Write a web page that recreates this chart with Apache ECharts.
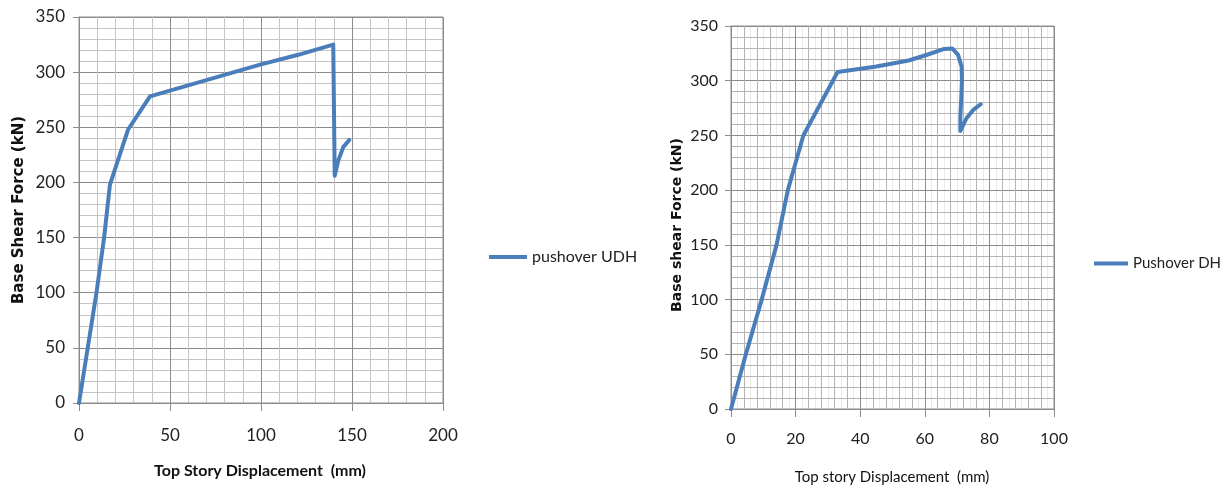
<!DOCTYPE html>
<html>
<head>
<meta charset="utf-8">
<script src="https://cdn.jsdelivr.net/npm/echarts@6/dist/echarts.min.js"></script>
<style>
html,body{margin:0;padding:0;background:#fff;}
#chart{width:1225px;height:488px;}
</style>
</head>
<body>
<div id="chart"></div>
<script>
// Left chart: pushover UDH
const udhX = [0, 9.6, 13.8, 17, 27, 39, 60, 80, 100, 120, 139.7, 140.5, 142.5, 145.2, 148.5];
const udhY = [0, 100, 150, 198, 248, 278, 288, 297.5, 307, 315.5, 325, 206, 220, 232, 238.5];
// Right chart: Pushover DH
const dhX = [0, 4.6, 9.5, 14.1, 17.6, 22.4, 33, 45, 55, 60.5, 66, 68.5, 70.3, 71.4, 71.5, 71.3, 71.0, 71.0, 72.9, 75.0, 77.3];
const dhY = [0, 50, 100, 150, 200, 250, 308, 313, 318.5, 323.5, 329, 329.5, 323.6, 312.9, 300.7, 285, 267, 254, 265.7, 273.3, 278.5];

const leftXTicks = [0, 50, 100, 150, 200];
const leftYTicks = [0, 50, 100, 150, 200, 250, 300, 350];
const rightXTicks = [0, 20, 40, 60, 80, 100];
const rightYTicks = [0, 50, 100, 150, 200, 250, 300, 350];

const names = ['pushover UDH', 'Pushover DH'];
const titles = {
  leftX: 'Top Story Displacement  (mm)',
  leftY: 'Base Shear Force (kN)',
  rightX: 'Top story Displacement  (mm)',
  rightY: 'Base shear Force (kN)'
};

const BLUE = '#4a7ebb';
const MAJ = '#8c8c8c';

function pairs(xs, ys) { return xs.map((x, i) => [x, ys[i]]); }

const chart = echarts.init(document.getElementById('chart'));

function valAxis(grid, ticks, labelSize, margin, tickLen, minorN, minorColor, extra) {
  return Object.assign({
    type: 'value', gridIndex: grid,
    min: ticks[0], max: ticks[ticks.length - 1], interval: ticks[1] - ticks[0],
    axisLine: { show: true, lineStyle: { color: MAJ, width: 1 } },
    axisTick: { show: true, length: tickLen, lineStyle: { color: MAJ } },
    axisLabel: { fontFamily: 'Lato', fontSize: labelSize, color: '#222', margin: margin },
    splitLine: { show: true, lineStyle: { color: MAJ, width: 1 } },
    minorTick: { show: false, splitNumber: minorN },
    minorSplitLine: { show: true, lineStyle: { color: minorColor, width: 1 } }
  }, extra || {});
}

const option = {
  animation: false,
  backgroundColor: '#fff',
  grid: [
    { left: 79, top: 17, width: 364, height: 386, show: true, borderColor: MAJ, borderWidth: 1, backgroundColor: 'transparent' },
    { left: 731, top: 26, width: 323, height: 383, show: true, borderColor: MAJ, borderWidth: 1, backgroundColor: 'transparent' }
  ],
  xAxis: [
    valAxis(0, leftXTicks, 17, 24, 8, 5, '#c4c4c4'),
    valAxis(1, rightXTicks, 16, 22, 8, 5, '#b4b4b4'),
    valAxis(1, rightXTicks, 16, 22, 8, 10, '#ebebeb', {
      axisLine: { show: false }, axisTick: { show: false }, axisLabel: { show: false },
      splitLine: { show: false }, z: -1
    })
  ],
  yAxis: [
    valAxis(0, leftYTicks, 17, 14, 6, 5, '#c4c4c4'),
    valAxis(1, rightYTicks, 16, 13, 6, 5, '#b4b4b4')
  ],
  legend: [
    {
      left: 484, top: 244, orient: 'vertical', itemWidth: 38, itemHeight: 4, icon: 'rect',
      data: [names[0]],
      textStyle: { fontFamily: 'Lato', fontSize: 16, color: '#222' }
    },
    {
      left: 1089, top: 251, orient: 'vertical', itemWidth: 34, itemHeight: 4, icon: 'rect',
      data: [names[1]],
      textStyle: { fontFamily: 'Lato', fontSize: 15, color: '#222' }
    }
  ],
  graphic: [
    { type: 'text', x: 260, y: 471, style: { text: titles.leftX, font: 'bold 16px Lato', fill: '#111', align: 'center', verticalAlign: 'middle' } },
    { type: 'text', x: 19, y: 210, rotation: Math.PI / 2, style: { text: titles.leftY, font: 'bold 15px "DejaVu Sans"', fill: '#111', align: 'center', verticalAlign: 'middle' } },
    { type: 'text', x: 892, y: 477, style: { text: titles.rightX, font: '15px Lato', fill: '#111', align: 'center', verticalAlign: 'middle' } },
    { type: 'text', x: 677, y: 225, rotation: Math.PI / 2, style: { text: titles.rightY, font: 'bold 14px "DejaVu Sans"', fill: '#111', align: 'center', verticalAlign: 'middle' } }
  ],
  series: [
    {
      name: names[0], type: 'line', xAxisIndex: 0, yAxisIndex: 0,
      data: pairs(udhX, udhY), symbol: 'none', smooth: false,
      lineStyle: { color: BLUE, width: 4, cap: 'round', join: 'round' },
      itemStyle: { color: BLUE }, z: 5
    },
    {
      name: names[1], type: 'line', xAxisIndex: 1, yAxisIndex: 1,
      data: pairs(dhX, dhY), symbol: 'none', smooth: false,
      lineStyle: { color: BLUE, width: 4, cap: 'round', join: 'round' },
      itemStyle: { color: BLUE }, z: 5
    }
  ]
};
chart.setOption(option);
</script>
</body>
</html>
